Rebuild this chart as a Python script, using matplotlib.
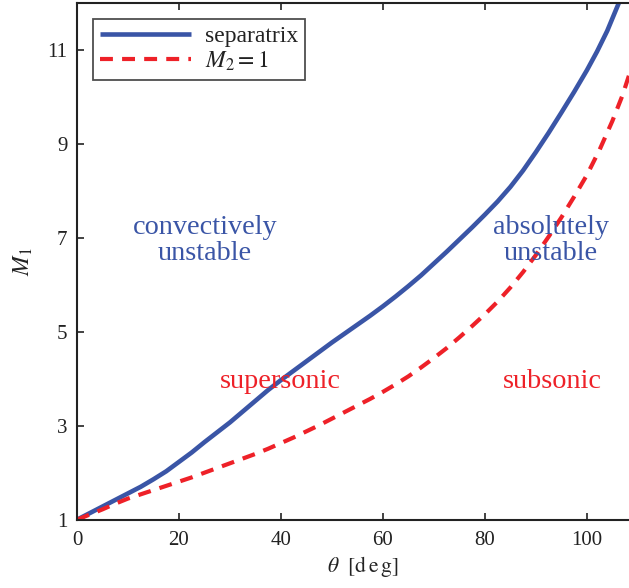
import matplotlib
matplotlib.use("Agg")
import matplotlib.pyplot as plt

plt.rcParams['font.family'] = ['Liberation Serif', 'DejaVu Serif']
plt.rcParams['mathtext.fontset'] = 'stix'

theta_sep = [0, 2.5, 5, 7.5, 10, 12.5, 15, 17.5, 20, 22.5, 25, 27.5, 30, 32.5, 35,
             37.5, 40, 42.5, 45, 47.5, 50, 52.5, 55, 57.5, 60, 62.5, 65, 67.5, 70,
             72.5, 75, 77.5, 80, 82.5, 85, 87.5, 90, 92.5, 95, 97.5, 100, 102,
             104, 106.3, 107.5]
m_sep = [1.0, 1.14, 1.28, 1.42, 1.56, 1.70, 1.86, 2.03, 2.23, 2.43, 2.65, 2.86,
         3.07, 3.30, 3.53, 3.76, 3.97, 4.17, 4.37, 4.57, 4.77, 4.96, 5.15, 5.34,
         5.54, 5.75, 5.97, 6.20, 6.45, 6.70, 6.96, 7.22, 7.49, 7.77, 8.08, 8.43,
         8.82, 9.23, 9.66, 10.10, 10.56, 10.96, 11.40, 12.0, 12.3]

theta_m2 = [0, 2.5, 5, 7.5, 10, 12.5, 15, 17.5, 20, 22.5, 25, 27.5, 30, 32.5, 35,
            37.5, 40, 42.5, 45, 47.5, 50, 52.5, 55, 57.5, 60, 62.5, 65, 67.5, 70,
            72.5, 75, 77.5, 80, 82.5, 85, 87.5, 90, 92.5, 95, 97.5, 100, 102.5,
            105, 107, 108.2, 110]
m_m2 = [1.0, 1.11, 1.22, 1.34, 1.45, 1.54, 1.63, 1.72, 1.81, 1.90, 2.0, 2.10,
        2.2, 2.30, 2.40, 2.51, 2.63, 2.75, 2.88, 3.01, 3.15, 3.29, 3.43, 3.57,
        3.72, 3.88, 4.05, 4.24, 4.44, 4.65, 4.88, 5.12, 5.37, 5.64, 5.94, 6.27,
        6.63, 7.02, 7.43, 7.87, 8.33, 8.87, 9.48, 10.03, 10.43, 11.0]

xticks = [0, 20, 40, 60, 80, 100]
yticks = [1, 3, 5, 7, 9, 11]

blue = '#3a55a6'
red = '#ee2128'
ink = '#222222'

fig = plt.figure(figsize=(6.29, 5.88), dpi=100)
ax = fig.add_axes([77/629, 68.3/588, 571/629, 517/588])

ax.plot(theta_sep, m_sep, color=blue, lw=3.3, label='separatrix', solid_capstyle='butt')
ax.plot(theta_m2, m_m2, color=red, lw=3.0, dashes=(3.1, 2.2), label=r'$M_2 = 1$')

ax.set_xlim(0, 112)
ax.set_ylim(1, 12)
ax.set_xticks(xticks)
ax.set_yticks(yticks)
ax.tick_params(direction='in', top=True, right=True, length=5, width=1.2,
               labelsize=15, colors=ink, pad=8)
ax.tick_params(axis='y', pad=7)
for s in ax.spines.values():
    s.set_linewidth(1.5)
    s.set_color(ink)

ax.set_xlabel(r'$\theta\ \ [\mathrm{d\,e\,g}]$', fontsize=15.5, color=ink, labelpad=3)
ax.set_ylabel(r'$M_1$', fontsize=17, color=ink, labelpad=9)

fs = 20.3
ax.text(25.1, 6.95, 'convectively\nunstable', color=blue, fontsize=fs,
        ha='center', va='center', linespacing=1.05)
ax.text(93.0, 6.95, 'absolutely\nunstable', color=blue, fontsize=fs,
        ha='center', va='center', linespacing=1.05)
ax.text(39.8, 3.95, 'supersonic', color=red, fontsize=fs, ha='center', va='center')
ax.text(93.2, 3.95, 'subsonic', color=red, fontsize=fs, ha='center', va='center')

leg = ax.legend(loc='upper left', bbox_to_anchor=(16/571, 1 - 16/517), fontsize=17,
                frameon=True, fancybox=False, edgecolor=ink, borderpad=0.3,
                handlelength=3.85, handletextpad=0.6, labelspacing=0.1,
                borderaxespad=0)
leg.get_frame().set_linewidth(1.3)
for t in leg.get_texts():
    t.set_color(ink)

fig.savefig('out.png', dpi=100)
